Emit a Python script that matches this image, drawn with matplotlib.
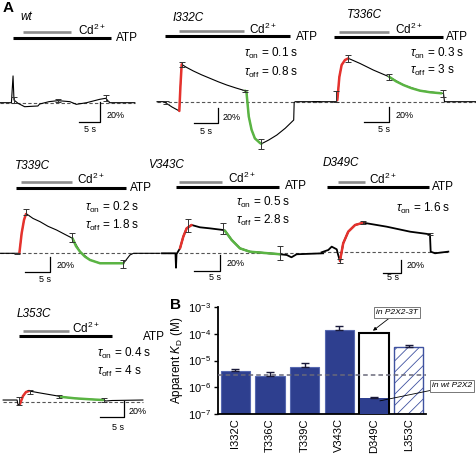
import numpy as np
import matplotlib
matplotlib.use("Agg")
import matplotlib.pyplot as plt

plt.rcParams['font.family'] = ['Liberation Sans', 'DejaVu Sans']
plt.rcParams['mathtext.fontset'] = 'custom'
plt.rcParams['mathtext.rm'] = 'Liberation Sans'
plt.rcParams['mathtext.it'] = 'Liberation Sans:italic'
plt.rcParams['mathtext.bf'] = 'Liberation Sans:bold'
plt.rcParams['hatch.linewidth'] = 0.6

# ---------------- Panel A data: (time [s], response [%]) ----------------
# time 0 = start of ATP application, 0 % = baseline
wt_trace = [(-3.0, 0), (-0.3, 0), (0.08, 26), (0.3, 2.6), (1.25, -0.6), (2.8, -3.9), (4.5, -3.5),
            (5.9, -3.2), (6.3, -1.3), (8.5, 1), (10.6, 2), (13.4, 1), (14.9, -1.6), (17.3, 0),
            (20.4, 3.3), (21.8, 4.3), (22.7, 0), (28.6, 0)]
wt_err = [(0.3, 3, 3), (10.7, 2, 1.5), (21.8, 4.3, 3)]
wt_atp = (0, 23.0)
wt_cd = (2.4, 13.6)

I332C_trace = [(-1.7, 0), (-0.2, 0), (0.2, -1.7), (1.5, -6.8), (3.06, -11.9), (3.3, 20), (3.56, 47.9),
               (4.6, 44), (6.05, 39.4), (7.8, 34.5), (9.6, 30), (11.4, 25.5), (13.2, 21.4), (15.2, 17.5),
               (17.1, 14.1), (17.4, 12.8), (17.6, 0), (17.9, -19), (18.5, -36), (19.2, -47), (20.3, -53),
               (20.6, -54), (22.2, -49), (23.9, -42.7), (25.7, -34), (27.5, -23.5), (27.6, -1.2), (27.8, 0),
               (33.1, 0)]
I332C_on = [(3.06, -11.9), (3.3, 20), (3.56, 47.9)]
I332C_off = [(17.1, 14.1), (17.4, 12.8), (17.6, 0), (17.9, -19), (18.5, -36), (19.2, -47), (20.3, -53),
             (20.6, -54)]
I332C_err = [(0.2, -1, 2), (3.56, 47.9, 3), (17.1, 14.1, 1.5), (20.6, -54, 6.8)]
I332C_atp = (0, 26.7)
I332C_cd = (3.0, 16.9)

T336C_trace = [(-4.2, 0), (0.5, 0), (0.67, 2.2), (1.07, 33), (1.53, 49), (2.2, 55.6), (2.87, 57.8),
               (5.2, 51), (7.87, 42.2), (11.0, 33.3), (13.9, 22.2), (17.2, 14.7), (21.5, 11.2),
               (21.9, 11), (22.1, 0), (28.6, 0)]
T336C_on = [(0.67, 2.2), (1.07, 33), (1.53, 49), (2.2, 55.6), (2.87, 57.8)]
T336C_off = [(11.0, 33.3), (12.4, 27.2), (13.9, 22.2), (15.5, 18), (17.2, 14.7), (19.3, 12.5), (21.5, 11.2)]
T336C_err = [(0.5, 7, 7), (2.87, 57.8, 4.4), (11.0, 33.3, 4), (21.8, 11.2, 5)]
T336C_atp = (0, 21.8)
T336C_cd = (1.0, 11.0)

T339C_trace = [(-3.2, 0), (0.67, 0), (1.13, 26.7), (1.6, 44.4), (2.0, 52.4), (2.13, 52.4), (3.4, 46.5),
               (4.8, 42.2), (6.4, 36), (8.1, 31.1), (9.7, 25.5), (11.3, 20), (12.8, 2.2), (14.8, -8.9),
               (16.8, -13.3), (21.5, -13.3), (22.8, -2.2), (23.5, 0), (28.8, 0)]
T339C_on = [(0.67, 0), (1.13, 26.7), (1.6, 44.4), (2.0, 52.4)]
T339C_off = [(11.3, 20), (12.0, 9.5), (12.8, 2.2), (13.8, -4.5), (14.8, -8.9), (16.8, -13.3), (21.5, -13.3)]
T339C_err = [(0.2, 0, 1), (2.0, 55, 4), (11.3, 21, 5.6), (21.5, -14, 5)]
T339C_atp = (0, 22.0)
T339C_cd = (1.0, 11.2)

V343C_trace = [(-2.7, 0), (-0.1, 0), (0.0, -18), (0.1, -1), (0.77, 6.2), (1.4, 20.8), (2.05, 31.2),
               (3.0, 35.4), (4.6, 32.5), (6.5, 31.2), (9.1, 29.1), (9.4, 28.3), (10.7, 16.7), (12.3, 6.2),
               (14.2, 2), (20.0, -1.2), (21.3, -2.1), (22.2, -5), (23.2, -1.2), (28.3, 0)]
V343C_on = [(0.77, 6.2), (1.4, 20.8), (2.05, 31.2), (3.0, 35.4)]
V343C_off = [(9.4, 28.3), (10.7, 16.7), (12.3, 6.2), (14.2, 2), (20.0, -1.2)]
V343C_err = [(2.4, 35, 8), (9.1, 30.6, 6.9), (20.0, 0, 8.8)]
V343C_atp = (0, 19.8)
V343C_cd = (0.6, 8.8)

D349C_trace = [(-1.5, 0), (0.37, 3.6), (1.3, 8.7), (2.7, 4.6), (3.1, -4), (3.6, -13.4), (4.5, 13.8),
               (5.9, 31.7), (7.8, 42), (10.1, 45.5), (16.6, 39.4), (23.1, 31.7), (28.6, 27.7), (28.8, 1),
               (30, -1.5), (33.7, 1)]
D349C_on = [(3.6, -13.4), (4.5, 13.8), (5.9, 31.7), (7.8, 42), (10.1, 45.5)]
D349C_off = []
D349C_err = [(3.6, -13.4, 3), (10.1, 46, 2), (28.5, 28, 2)]
D349C_atp = (0, 28.3)
D349C_cd = (3.1, 10.6)

L353C_trace = [(-3.3, 2.1), (-0.4, 2.1), (-0.2, -4.1), (0.2, -2.9), (0.83, 7.1), (1.46, 12.1), (2.1, 13.4),
               (4.4, 10.9), (8.1, 7.1), (8.5, 6.2), (11.7, 4.2), (14.8, 3), (17.5, 2.1), (18.1, 0.9),
               (19.4, 1.5), (25.8, 2.1)]
L353C_on = [(0.2, -2.9), (0.83, 7.1), (1.46, 12.1), (2.1, 13.4)]
L353C_off = [(8.5, 6.2), (11.7, 4.2), (14.8, 3), (17.5, 2.1)]
L353C_err = [(0, 1, 5), (2.3, 12, 2.5), (8.4, 6.2, 2), (17.8, 2.1, 2)]
L353C_atp = (0, 19.4)
L353C_cd = (0.8, 10.4)

tau_labels = {
    'I332C': ['0.1 s', '0.8 s'],
    'T336C': ['0.3 s', '3 s'],
    'T339C': ['0.2 s', '1.8 s'],
    'V343C': ['0.5 s', '2.8 s'],
    'D349C': ['1.6 s'],
    'L353C': ['0.4 s', '4 s'],
}

# ---------------- Panel B data ----------------
kd_mut = ['I332C', 'T336C', 'T339C', 'V343C', 'D349C', 'L353C']
kd_mean = [4.1e-6, 2.7e-6, 5.9e-6, 1.38e-4, 4.1e-7, 3.3e-5]
kd_upper = [4.8e-6, 3.6e-6, 7.8e-6, 2.0e-4, 4.4e-7, 3.9e-5]
kd_D349C_3T = 1.04e-4
kd_wt = 2.8e-6

# ---------------- Figure / layout (pixels) ----------------
W, H, DPI = 477, 454, 100
RED = '#e5322d'
GREEN = '#5ab443'
BLUE = '#2e3f8f'

fig = plt.figure(figsize=(W / DPI, H / DPI), dpi=DPI)


def ftext(x, y, s, **kw):
    # text placed in figure pixel coordinates (origin top-left)
    kw.setdefault('va', 'center')
    kw.setdefault('ha', 'left')
    fig.text(x / W, 1 - y / H, s, **kw)


def trace_panel(name, trace, on, off, err, atp, cd, geom, lay):
    x0, base, px_s, px_pct = geom
    ax = fig.add_axes([0, 0, 1, 1])
    ax.set_xlim(-x0 / px_s, (W - x0) / px_s)
    ax.set_ylim((base - H) / px_pct, base / px_pct)
    ax.axis('off')
    ax.patch.set_alpha(0)

    def ydat(py):
        return (base - py) / px_pct

    def xdat(px):
        return (px - x0) / px_s

    t = np.array([p[0] for p in trace])
    y = np.array([p[1] for p in trace])
    ax.plot([t[0], t[-1]], [0, 0], ls=(0, (3, 2)), color='#555555', lw=0.8)
    ax.plot(t, y, color='black', lw=0.8 if name not in ('V343C', 'D349C') else 1.3)
    if on:
        ax.plot([p[0] for p in on], [p[1] for p in on], color=RED, lw=1.8, solid_capstyle='round')
    if off:
        ax.plot([p[0] for p in off], [p[1] for p in off], color=GREEN, lw=1.8, solid_capstyle='round')
    for et, ey, ee in err:
        ax.errorbar(et, ey, yerr=ee, fmt='none', ecolor='#333333', elinewidth=0.7, capsize=2.2, capthick=0.7)

    # solution application bars
    ax.plot(atp, [ydat(lay['atp_y'])] * 2, color='black', lw=2.2, solid_capstyle='butt')
    ax.plot(cd, [ydat(lay['cd_y'])] * 2, color='#8c8c8c', lw=1.9, solid_capstyle='butt')

    # scale bars 5 s / 20 %
    cx, cy = xdat(lay['corner'][0]), ydat(lay['corner'][1])
    ax.plot([cx - 5, cx, cx], [cy, cy, cy + 20], color='black', lw=0.9)

    ftext(*lay['title'], name, fontsize=8.5, style='italic')
    ftext(*lay['cd'], r'Cd$^{2+}$', fontsize=8.5)
    ftext(*lay['atp'], 'ATP', fontsize=8.5)
    ftext(*lay['pct'], '20%', fontsize=6.5)
    ftext(*lay['sec'], '5 s', fontsize=6.5, ha='center')
    if name in tau_labels:
        labs = tau_labels[name]
        ftext(*lay['tau'][0], r'$\tau_{\rm on}$ = ' + labs[0], fontsize=8.5)
        if len(labs) > 1:
            ftext(*lay['tau'][1], r'$\tau_{\rm off}$ = ' + labs[1], fontsize=8.5)


trace_panel('wt', wt_trace, [], [], wt_err, wt_atp, wt_cd, (12.7, 102.7, 4.27, 1.03),
            dict(atp_y=37.7, cd_y=32.3, title=(20, 17), cd=(78, 30), atp=(116, 38),
                 corner=(100, 122.3), pct=(107, 116), sec=(90, 129)))
trace_panel('I332C', I332C_trace, I332C_on, I332C_off, I332C_err, I332C_atp, I332C_cd,
            (165, 101.7, 4.68, 0.78),
            dict(atp_y=36, cd_y=31, title=(173, 18), cd=(249, 29), atp=(296, 37),
                 tau=[(244, 53), (244, 72)], corner=(217.7, 123.3), pct=(223, 117), sec=(206, 131)))
trace_panel('T336C', T336C_trace, T336C_on, T336C_off, T336C_err, T336C_atp, T336C_cd,
            (334, 101.7, 5.0, 0.75),
            dict(atp_y=37, cd_y=32, title=(347, 15), cd=(395, 29), atp=(446, 37),
                 tau=[(410, 53), (410, 70)], corner=(389, 122), pct=(396, 116), sec=(384, 129)))
trace_panel('T339C', T339C_trace, T339C_on, T339C_off, T339C_err, T339C_atp, T339C_cd,
            (16, 253.3, 5.0, 0.75),
            dict(atp_y=188, cd_y=182, title=(15, 166), cd=(77, 179), atp=(130, 188),
                 tau=[(85, 207), (85, 225)], corner=(50, 272), pct=(57, 266), sec=(45, 280)))
trace_panel('V343C', V343C_trace, V343C_on, V343C_off, V343C_err, V343C_atp, V343C_cd,
            (176, 253.3, 5.2, 0.8),
            dict(atp_y=187, cd_y=182, title=(149, 165), cd=(228, 178), atp=(285, 186),
                 tau=[(236, 202), (236, 220)], corner=(220, 271), pct=(227, 264), sec=(215, 277)))
trace_panel('D349C', D349C_trace, D349C_on, D349C_off, D349C_err, D349C_atp, D349C_cd,
            (327, 252.3, 3.6, 0.65),
            dict(atp_y=187, cd_y=182, title=(323, 163), cd=(369, 179), atp=(432, 187),
                 tau=[(396, 208)], corner=(401, 273), pct=(407, 266), sec=(393, 277)))
trace_panel('L353C', L353C_trace, L353C_on, L353C_off, L353C_err, L353C_atp, L353C_cd,
            (19, 401.7, 4.8, 0.8),
            dict(atp_y=336, cd_y=331, title=(17, 314), cd=(72, 328), atp=(143, 337),
                 tau=[(97, 353), (97, 371)], corner=(124, 417), pct=(129, 412), sec=(118, 427)))

ftext(3, 8, 'A', fontsize=11, fontweight='bold')
ftext(170, 305, 'B', fontsize=11, fontweight='bold')

# ---------------- Panel B ----------------
ax = fig.add_axes([218 / W, 1 - 414 / H, 208 / W, 107 / H])
ax.set_yscale('log')
ax.set_ylim(1e-7, 1e-3)
ax.set_xlim(-0.5, 5.5)
x = np.arange(len(kd_mut))
bw = 0.84
lo = 1e-7
mean = np.array(kd_mean)
up = np.array(kd_upper)

solid = [0, 1, 2, 3]
ax.bar(x[solid], mean[solid] - lo, bottom=lo, width=bw, color=BLUE, edgecolor='#5668b0', lw=0.8, zorder=2)
# D349C: outline bar in P2X2-3T, filled part in wt P2X2
ax.bar(x[4], kd_D349C_3T - lo, bottom=lo, width=bw, color='white', edgecolor='black', lw=1.5, zorder=2)
ax.bar(x[4], mean[4] - lo, bottom=lo, width=bw - 0.06, color=BLUE, edgecolor=BLUE, lw=0, zorder=3)
ax.bar(x[5], mean[5] - lo, bottom=lo, width=bw, color='white', edgecolor='#3f52a0', hatch='///',
       lw=1.0, zorder=2)
ax.errorbar(x, mean, yerr=[np.zeros(len(x)), up - mean], fmt='none', ecolor='#1a1a3a',
            elinewidth=1.0, capsize=3, capthick=1.0, zorder=4)
ax.axhline(kd_wt, color='#6a6a7a', ls=(0, (3, 2)), lw=1.1, zorder=5)

for s in ['top', 'right']:
    ax.spines[s].set_visible(False)
ax.spines['left'].set_linewidth(1.3)
ax.spines['bottom'].set_linewidth(1.3)
ax.set_yticks([1e-7, 1e-6, 1e-5, 1e-4, 1e-3])
ax.set_yticklabels([r'10$^{-7}$', r'10$^{-6}$', r'10$^{-5}$', r'10$^{-4}$', r'10$^{-3}$'], fontsize=8)
ax.tick_params(axis='y', direction='out', length=3, width=1, pad=2)
ax.tick_params(axis='y', which='minor', length=1.5, width=0.6)
ax.set_xticks(x)
ax.set_xticklabels(kd_mut, rotation=90, fontsize=8)
ax.tick_params(axis='x', length=0, pad=3)
ax.set_ylabel(r'Apparent $K_{\rm D}$ (M)', fontsize=8.5, labelpad=2)

box = dict(boxstyle='square,pad=0.25', fc='white', ec='#777777', lw=0.7)
ax.annotate('in P2X2-3T', xy=(3.97, 1.3e-4), xytext=(4.65, 6.2e-4), fontsize=6, style='italic',
            ha='center', va='center', bbox=box,
            arrowprops=dict(arrowstyle='-|>', color='black', lw=0.6, mutation_scale=5, shrinkA=0, shrinkB=0),
            annotation_clip=False, zorder=6)
ax.annotate('in wt P2X2', xy=(4.17, 3.1e-7), xytext=(6.26, 1.12e-6), fontsize=6, style='italic',
            ha='center', va='center', bbox=box,
            arrowprops=dict(arrowstyle='-', color='black', lw=0.6, shrinkA=0, shrinkB=0),
            annotation_clip=False, zorder=6)

fig.savefig('out.png', dpi=DPI)
